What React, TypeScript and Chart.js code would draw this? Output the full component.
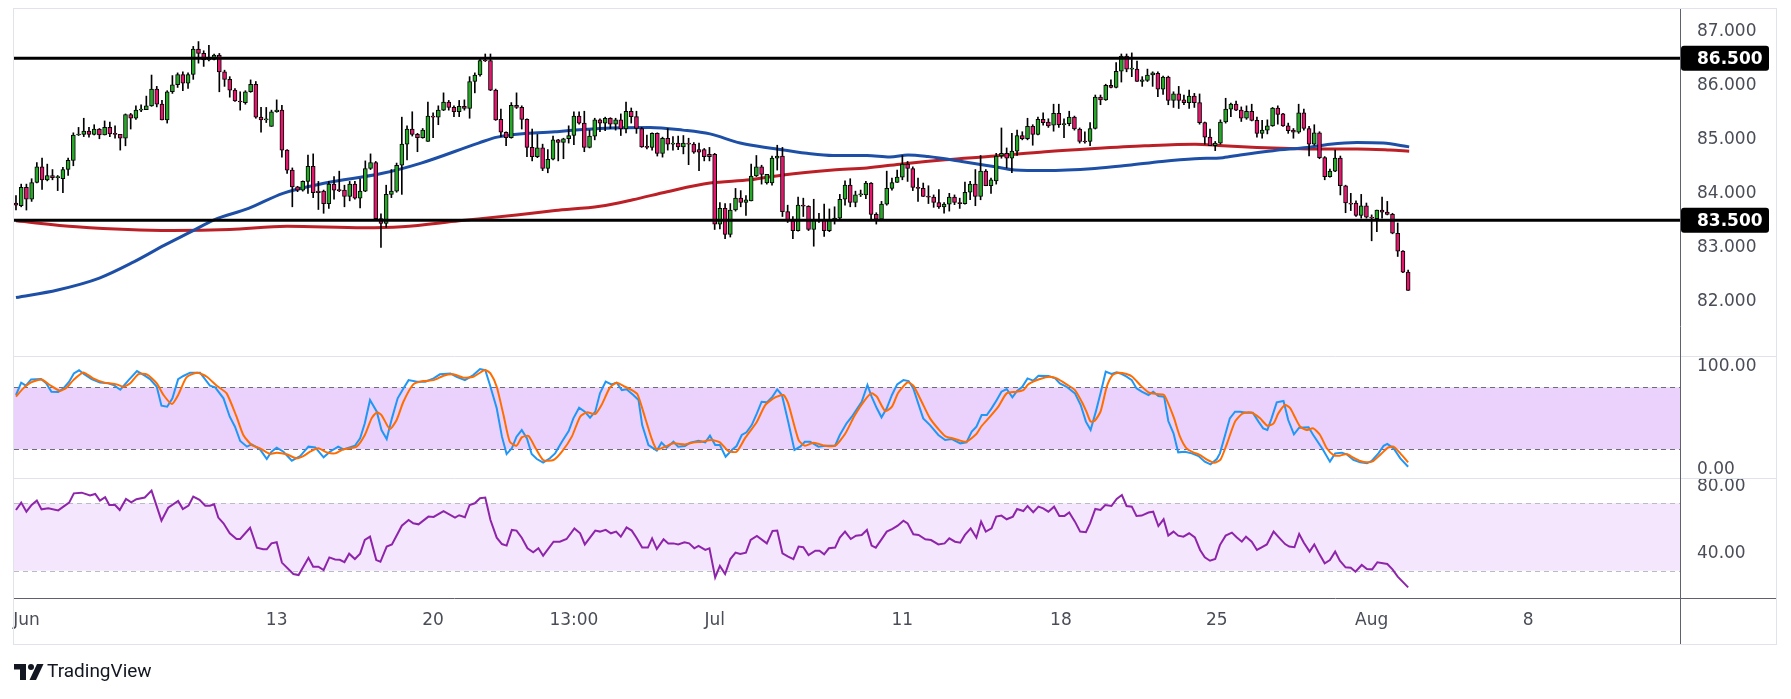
import { useEffect, useRef } from 'react';
import { Chart, registerables } from 'chart.js';

Chart.register(...registerables);

// ---------------- DATA ----------------
const opens = [
  83.82, 83.77, 84.11, 83.89, 84.20, 84.49, 84.25, 84.33, 84.29, 84.27,
  84.44, 84.61, 85.08, 85.09, 85.15, 85.09, 85.19, 85.08, 85.22, 85.10,
  85.09, 85.02, 85.46, 85.39, 85.54, 85.55, 85.62, 85.93, 85.65, 85.36,
  85.88, 86.01, 86.20, 86.04, 86.20, 86.67, 86.59, 86.47, 86.48, 86.56,
  86.25, 86.11, 85.91, 85.71, 85.68, 85.88, 86.02, 85.41, 85.36, 85.24,
  85.51, 85.54, 84.80, 84.43, 84.12, 84.06, 84.22,
  84.50, 84.04, 84.04, 83.81, 84.17, 84.06, 84.06, 83.94, 84.17, 83.91, 84.04, 84.46, 84.57,
  83.53, 83.44, 83.98, 84.04, 84.52, 84.91, 85.19, 85.09, 85.03, 84.96,
  85.43, 85.41, 85.54, 85.69, 85.59, 85.51, 85.61, 85.57, 86.07, 86.19,
  86.46, 86.46, 85.91, 85.37, 85.13, 85.03, 85.63, 85.59, 85.37, 84.85,
  84.68, 84.84, 84.46, 84.63, 84.99, 84.94, 85.01, 85.07, 85.43, 85.30,
  84.85, 85.06, 85.36, 85.30, 85.39, 85.28, 85.36, 85.19, 85.52, 85.42,
  85.20, 84.86, 84.85, 85.11, 84.74, 85.02, 84.91, 84.93, 84.86, 84.93,
  84.91, 84.81, 84.81, 84.72, 84.72, 83.43, 83.72, 83.24, 83.69, 83.91,
  83.83, 83.86, 84.32, 84.49, 84.19, 84.19, 84.65, 84.69, 83.66, 83.49,
  83.31, 83.78, 83.76, 83.33, 83.50, 83.50, 83.31, 83.50, 83.54, 83.89,
  84.15, 83.83, 83.97, 83.97, 84.19, 83.61, 83.52, 83.80, 84.09, 84.20,
  84.30, 84.54, 84.46, 84.11, 84.09, 83.95, 83.93, 83.83, 83.75, 83.80,
  83.93, 83.83, 83.81, 84.02, 84.17, 83.94, 84.41, 84.14, 84.23, 84.69,
  84.74, 84.65, 84.78, 85.07, 85.01, 85.24, 85.09, 85.37, 85.32, 85.26,
  85.48, 85.27, 85.29, 85.41, 85.19, 84.96, 84.96, 85.20, 85.78, 85.73,
  86.00, 85.96, 86.26, 86.54, 86.30, 86.30, 86.07, 86.09, 86.19, 86.22,
  85.93, 86.15, 85.72, 85.84, 85.73, 85.68,
  85.80, 85.68, 85.31, 85.04,
  84.88, 84.93, 85.32, 85.56, 85.65, 85.54, 85.39, 85.52, 85.35, 85.11,
  85.17, 85.25, 85.58, 85.47, 85.25, 85.17, 85.13, 85.49, 85.20, 84.91,
  85.12, 84.66, 84.31, 84.41, 84.65, 84.14, 83.82, 83.82, 83.59, 83.77,
  83.56, 83.53, 83.69, 83.65, 83.61, 83.26, 82.93, 82.54,
];

const highs = [
  83.96, 84.17, 84.17, 84.27, 84.57, 84.65, 84.54, 84.44, 84.33, 84.48,
  84.65, 85.12, 85.22, 85.39, 85.22, 85.27, 85.20, 85.34, 85.32, 85.25,
  85.09, 85.47, 85.48, 85.62, 85.64, 85.80, 86.19, 85.98, 85.72, 85.90,
  86.18, 86.23, 86.25, 86.23, 86.72, 86.81, 86.64, 86.74, 86.58, 86.59,
  86.28, 86.16, 85.94, 85.88, 85.90, 86.10, 86.07, 85.59, 85.59, 85.54,
  85.73, 85.63, 84.81, 84.47, 84.13, 84.23, 84.71,
  84.73, 84.22, 84.06, 84.22, 84.31, 84.41, 84.15, 84.22, 84.22, 84.27, 84.60, 84.73, 84.59,
  83.62, 84.15, 84.44, 84.56, 85.41, 85.25, 85.51, 85.11, 85.20, 85.69,
  85.49, 85.62, 85.86, 85.72, 85.62, 85.72, 85.73, 86.16, 86.23, 86.48,
  86.58, 86.58, 85.93, 85.56, 85.14, 85.68, 85.86, 85.62, 85.38, 85.19,
  85.09, 84.91, 84.81, 85.06, 85.00, 85.02, 85.25, 85.51, 85.51, 85.52,
  85.17, 85.39, 85.38, 85.41, 85.40, 85.39, 85.47, 85.69, 85.58, 85.52,
  85.22, 85.08, 85.12, 85.12, 85.04, 85.20, 85.05, 85.06, 85.07, 85.02,
  84.94, 84.93, 84.83, 84.85, 84.74, 83.83, 83.81, 83.81, 84.09, 84.05,
  83.96, 84.54, 84.70, 84.52, 84.35, 84.69, 84.89, 84.85, 83.78, 83.57,
  83.93, 83.91, 83.77, 83.89, 83.63, 83.80, 83.71, 83.75, 83.98, 84.23,
  84.27, 84.04, 84.06, 84.22, 84.20, 83.64, 83.85, 84.41, 84.28, 84.43,
  84.70, 84.59, 84.49, 84.28, 84.19, 84.14, 83.97, 84.07, 83.83, 84.00,
  83.97, 83.91, 84.21, 84.22, 84.44, 84.70, 84.44, 84.28, 84.74, 85.21,
  84.84, 85.11, 85.17, 85.14, 85.39, 85.27, 85.41, 85.49, 85.38, 85.65,
  85.65, 85.38, 85.52, 85.43, 85.21, 85.14, 85.31, 85.82, 85.82, 86.02,
  86.10, 86.42, 86.58, 86.58, 86.60, 86.45, 86.16, 86.30, 86.25, 86.25,
  86.17, 86.17, 85.88, 85.98, 85.82, 85.91,
  85.85, 85.84, 85.32, 85.19,
  84.96, 85.36, 85.76, 85.67, 85.71, 85.60, 85.62, 85.65, 85.41, 85.35,
  85.36, 85.59, 85.62, 85.48, 85.30, 85.20, 85.65, 85.56, 85.24, 85.27,
  85.14, 84.68, 84.45, 84.80, 84.69, 84.15, 84.00, 83.86, 83.98, 83.82,
  83.60, 83.69, 83.93, 83.85, 83.63, 83.45, 82.94, 82.58,
];

const lows = [
  83.69, 83.75, 83.69, 83.85, 84.19, 84.07, 84.23, 84.25, 84.05, 84.01,
  84.33, 84.51, 85.07, 85.05, 85.04, 85.08, 85.01, 85.08, 85.05, 85.02,
  84.80, 84.88, 85.19, 85.37, 85.51, 85.55, 85.61, 85.60, 85.36, 85.30,
  85.85, 85.96, 85.90, 85.94, 86.11, 86.41, 86.35, 86.45, 86.47, 85.88,
  85.98, 85.78, 85.70, 85.54, 85.65, 85.87, 85.39, 85.13, 85.31, 85.24,
  85.50, 84.67, 84.37, 83.75, 84.03, 84.04, 84.00,
  83.92, 83.70, 83.63, 83.72, 83.89, 84.03, 83.75, 83.86, 83.89, 83.73, 84.03, 84.44, 83.52,
  83.00, 83.37, 83.92, 84.02, 83.98, 84.62, 85.06, 84.77, 85.02, 84.96,
  85.03, 85.27, 85.53, 85.54, 85.42, 85.42, 85.54, 85.39, 85.86, 86.17,
  86.44, 85.90, 85.35, 85.05, 84.88, 85.02, 85.57, 85.19, 84.68, 84.60,
  84.66, 84.42, 84.38, 84.62, 84.60, 84.64, 84.93, 84.90, 85.28, 84.77,
  84.84, 84.99, 85.14, 85.16, 85.20, 85.17, 85.07, 85.12, 85.30, 85.11,
  84.85, 84.82, 84.80, 84.69, 84.67, 84.80, 84.80, 84.81, 84.73, 84.53,
  84.74, 84.42, 84.60, 84.60, 83.33, 83.34, 83.16, 83.19, 83.67, 83.75,
  83.59, 83.86, 84.31, 84.17, 84.17, 84.15, 84.43, 83.57, 83.46, 83.16,
  83.30, 83.57, 83.31, 83.02, 83.46, 83.20, 83.29, 83.43, 83.52, 83.78,
  83.75, 83.75, 83.94, 83.90, 83.51, 83.43, 83.51, 83.78, 84.06, 84.20,
  84.25, 84.22, 84.05, 83.85, 83.94, 83.81, 83.74, 83.72, 83.63, 83.67,
  83.79, 83.72, 83.80, 83.88, 83.77, 83.88, 84.14, 84.00, 84.17, 84.65,
  84.47, 84.38, 84.70, 84.99, 84.99, 84.89, 85.08, 85.26, 85.22, 85.15,
  85.22, 85.03, 85.25, 85.17, 84.93, 84.93, 84.88, 85.19, 85.64, 85.72,
  85.95, 85.95, 86.06, 86.25, 86.16, 86.07, 85.98, 86.07, 85.98, 85.79,
  85.83, 85.64, 85.59, 85.57, 85.64, 85.57,
  85.59, 85.28, 84.91, 84.88,
  84.79, 84.91, 85.30, 85.42, 85.53, 85.33, 85.37, 85.34, 85.04, 85.02,
  85.10, 85.24, 85.28, 85.24, 85.11, 85.02, 85.11, 85.17, 84.69, 84.89,
  84.64, 84.25, 84.30, 84.40, 83.97, 83.64, 83.68, 83.57, 83.54, 83.54,
  83.12, 83.29, 83.54, 83.60, 83.25, 82.83, 82.53, 82.20,
];

const closes = [
  83.78, 84.11, 83.89, 84.20, 84.49, 84.25, 84.33, 84.29, 84.30, 84.44,
  84.61, 85.08, 85.09, 85.15, 85.09, 85.19, 85.08, 85.22, 85.10, 85.09,
  85.02, 85.46, 85.39, 85.54, 85.55, 85.62, 85.93, 85.65, 85.36, 85.88,
  86.01, 86.20, 86.04, 86.20, 86.67, 86.59, 86.47, 86.48, 86.56, 86.25,
  86.11, 85.91, 85.71, 85.69, 85.88, 86.02, 85.41, 85.36, 85.37, 85.51,
  85.54, 84.80, 84.43, 84.12, 84.06, 84.22, 84.50,
  84.01, 84.01, 83.81, 84.17, 84.06, 84.05, 83.94, 84.17, 83.91, 84.04, 84.46, 84.57, 83.53,
  83.44, 83.98, 84.04, 84.52, 84.91, 85.19, 85.09, 85.03, 85.17, 85.43,
  85.41, 85.54, 85.69, 85.59, 85.51, 85.61, 85.57, 86.07, 86.19, 86.46,
  86.45, 85.91, 85.36, 85.13, 85.03, 85.63, 85.59, 85.37, 84.85, 84.68,
  84.84, 84.46, 84.63, 84.99, 84.94, 85.01, 85.07, 85.43, 85.30, 84.85,
  85.06, 85.36, 85.30, 85.39, 85.28, 85.36, 85.19, 85.52, 85.42, 85.20,
  84.86, 84.85, 85.11, 84.74, 85.02, 84.91, 84.93, 84.86, 84.93, 84.91,
  84.76, 84.76, 84.68, 84.68, 83.43, 83.72, 83.24, 83.69, 83.91, 83.83,
  83.88, 84.32, 84.49, 84.35, 84.35, 84.65, 84.69, 83.66, 83.49, 83.31,
  83.78, 83.76, 83.33, 83.50, 83.49, 83.31, 83.50, 83.54, 83.89, 84.15,
  83.83, 83.97, 83.99, 84.19, 83.61, 83.52, 83.80, 84.09, 84.20, 84.30,
  84.54, 84.46, 84.11, 84.09, 83.94, 83.93, 83.83, 83.75, 83.80, 83.93,
  83.83, 83.81, 84.02, 84.17, 83.94, 84.41, 84.14, 84.25, 84.69, 84.74,
  84.65, 84.78, 85.07, 85.01, 85.24, 85.09, 85.37, 85.31, 85.25, 85.48,
  85.27, 85.29, 85.41, 85.19, 84.96, 84.95, 85.20, 85.78, 85.73, 86.00,
  85.96, 86.26, 86.54, 86.30, 86.30, 86.07, 86.10, 86.19, 86.23, 85.93,
  86.15, 85.72, 85.84, 85.72, 85.68, 85.80,
  85.68, 85.31, 85.04, 84.88,
  84.93, 85.32, 85.56, 85.65, 85.54, 85.39, 85.52, 85.35, 85.11, 85.17,
  85.25, 85.58, 85.46, 85.25, 85.16, 85.13, 85.49, 85.20, 84.91, 85.12,
  84.66, 84.31, 84.41, 84.65, 84.14, 83.82, 83.80, 83.59, 83.77, 83.56,
  83.54, 83.69, 83.65, 83.61, 83.26, 82.93, 82.54, 82.20,
];

// moving averages: [bar index, value]
const blueMA = [
  [0, 82.07], [8, 82.21], [16, 82.43], [22.6, 82.73], [28.5, 83.04], [33.6, 83.29], [38, 83.51],
  [44.6, 83.72], [51.2, 84.0], [59.3, 84.19], [70.3, 84.37], [77.7, 84.56], [88.7, 84.93],
  [92.3, 85.04], [103.4, 85.14], [112, 85.2], [121.6, 85.22], [127.9, 85.17], [133.1, 85.1],
  [138.9, 84.93], [145.2, 84.83], [151.7, 84.74], [156.7, 84.7], [163.2, 84.7], [167.6, 84.67],
  [171.1, 84.71], [174.9, 84.68], [181.4, 84.59], [187.8, 84.49], [191.6, 84.43], [197.4, 84.42],
  [206.9, 84.46], [213.3, 84.52], [219.8, 84.59], [226.1, 84.64], [231.5, 84.66], [234.8, 84.71],
  [241.1, 84.79], [247.6, 84.85], [252, 84.91], [257.2, 84.94], [262.2, 84.93], [267.2, 84.86],
];

const redMA = [
  [0, 83.49], [11.6, 83.38], [29.9, 83.31], [41, 83.33], [52, 83.39], [66.7, 83.36], [74, 83.38],
  [85, 83.49], [96, 83.6], [103.4, 83.68], [112, 83.76], [118.3, 83.88], [124.9, 84.03],
  [133.1, 84.19], [140.8, 84.25], [147.1, 84.34], [156.7, 84.43], [163.2, 84.47], [169.5, 84.54],
  [178.2, 84.62], [187.8, 84.69], [197.4, 84.77], [206.9, 84.83], [216.5, 84.88], [226.1, 84.91],
  [231.5, 84.88], [238, 84.85], [244.3, 84.83], [250.7, 84.82], [257.2, 84.82], [263.5, 84.8],
  [267.2, 84.78],
];

// stochastic %K / %D: [bar index, value]
const stochK = [
  [0, 72.6], [1, 84.5], [1.9, 81.6], [2.9, 87.7], [4.8, 88.1], [5.8, 83.9], [6.8, 75.8], [8.1, 75.5],
  [9.1, 79], [10.2, 85.5], [11.1, 93.5], [12.1, 96.5], [13, 93], [14.5, 88], [16.1, 84.8], [17.7, 83.9],
  [18.7, 82.3], [20, 77.7], [21.6, 87], [23.2, 95.8], [24.7, 91.3], [25.7, 88], [27, 80.6], [27.9, 62.3],
  [29, 61.3], [30, 69.4], [31.1, 88], [32.1, 91], [33.4, 94.2], [35.3, 94.2], [37.2, 81.6], [38.2, 80],
  [39.8, 69.4], [41, 51.6], [42, 41.9], [43, 28.1], [44.3, 22.6], [45.2, 24.8], [46.8, 20], [48.1, 10.6],
  [49, 17.7], [50, 21.6], [51.3, 17.7], [52.9, 9], [54.5, 13.5], [56.1, 22.6], [57.4, 21.9], [59, 12.3],
  [60.2, 17.7], [61.8, 22.6], [62.8, 20], [65, 23.5], [66, 30.6], [66.9, 45.2], [67.9, 67.7], [69.2, 56.5],
  [70.1, 38.7], [71.1, 30], [72.1, 50], [73.2, 69.4], [74.3, 79], [75.3, 87], [76.9, 85.5], [78.5, 85.5],
  [80.1, 88.7], [81.3, 92.6], [83.3, 93.5], [84.5, 90.3], [86.1, 87], [87.7, 91.9], [89, 97.7],
  [90, 96.8], [90.9, 82.3], [92.2, 59.7], [93.2, 32.3], [94.1, 15.5], [95.1, 21], [96, 32.3], [97, 38.7],
  [98, 30.6], [98.9, 15.5], [99.9, 10.6], [101.1, 7.1], [102.4, 11.3], [103.4, 16.1], [104.7, 27.4],
  [106, 37.7], [106.9, 50], [108, 60.3], [109.1, 56.5], [110.1, 50.6], [111.1, 56.5], [112, 74.2],
  [113.1, 85.5], [114.2, 82.9], [115.2, 84.5], [116.2, 77.4], [117.1, 78.1], [118.4, 72.6], [119.4, 67.7],
  [120.1, 43.5], [121.3, 24.2], [122.9, 18.7], [123.8, 26.5], [124.8, 21.6], [126.1, 27.4], [127, 22.6],
  [128.3, 23.2], [129.3, 26.5], [130.9, 28.4], [132.2, 26.8], [133.1, 33.2], [134.1, 24.2], [135, 24.2],
  [136.1, 12.9], [137.3, 19.4], [138.2, 23.2], [139.2, 33.9], [140.1, 36.5], [141.1, 43.5], [142.1, 54.8],
  [143, 66.1], [144, 65.5], [145.1, 71], [146, 78.1], [146.9, 72.6], [148.1, 46.8], [149.3, 19.4],
  [150.4, 22.6], [151.3, 27.4], [152.3, 27.4], [153.9, 22.6], [155.2, 23.5], [157.1, 23.5], [158, 33.9],
  [159.3, 45.2], [160.3, 51.6], [162.2, 66.1], [163.3, 82.3], [164.1, 71], [165.1, 59.7], [166, 51],
  [167, 59.7], [168, 72.6], [169, 82.9], [170.2, 87], [171.2, 86.1], [172.1, 79], [173.1, 63.5], [174, 50],
  [175.3, 43.5], [176.9, 33.9], [178.2, 29], [179.5, 30], [181.1, 25.8],
  [182.3, 26.8], [183.3, 37.1], [184.2, 41.9], [185.2, 53.2], [186.2, 53.2], [187.1, 59.7], [188.1, 67.7],
  [189, 75.8], [190, 78.4], [191.1, 70.3], [192, 76.5], [193, 80.6], [194, 88.7], [195.1, 86.5],
  [196.1, 91.3], [198, 91], [199.3, 88.7], [200.2, 83.9], [201.5, 80.6], [203.1, 74.2], [204.2, 62.9],
  [205.2, 46.8], [206.1, 38.7], [207.1, 56.5], [208, 74.2], [209, 95.2], [210.1, 92.9], [211.1, 94.5],
  [212.1, 92.9], [213, 90.3], [214, 87], [214.9, 79], [215.9, 75.8], [217.2, 72.6], [218.1, 75.8],
  [219.1, 71.6], [220.2, 71], [221, 47.4], [222, 35.5], [222.9, 17.1], [224.2, 17.7], [225.5, 16.1],
  [226.8, 13.5], [228, 8.1], [229.1, 5.5], [230.3, 10.6], [230.9, 16.1], [231.9, 33.9], [232.8, 50],
  [233.8, 56.5], [234.8, 56.5], [236, 55.5], [237.2, 55.5], [238.3, 46.8], [239.2, 40.3], [240, 38.7],
  [240.8, 50], [241.8, 65.5], [243.1, 66.8], [244, 48.4], [245.1, 34.5], [246.1, 41], [247.9, 41.3],
  [248.8, 33.9], [250.7, 19.4], [252, 8.1], [253, 16.1], [254.3, 16.8], [255.2, 15.2], [256.5, 9.7],
  [257.8, 7.4], [259.1, 6.5], [260, 8.7], [261.3, 16.1], [262.3, 23.5], [263, 25.2], [264.2, 21],
  [265.5, 11.3], [267, 3.2],
];

const stochD = [
  [0, 71], [1.4, 79], [2.9, 84.8], [4.9, 87.7], [6.5, 82.3], [8.4, 76.8], [9.7, 79.7], [11, 87],
  [12.9, 94.5], [14.8, 88.7], [16.8, 84.8], [19.3, 82.9], [20.6, 80.6], [21.9, 83.9], [23.5, 92.9],
  [25.1, 92.6], [27, 83.9], [28.3, 72.6], [29.9, 63.9], [31.1, 72.6], [32.7, 89.7], [34.7, 94.2],
  [36.6, 90.3], [38.5, 81.6], [40.4, 74.2], [42.3, 51.6], [43.6, 33.9], [45.2, 24.2], [46.8, 21],
  [48.7, 15.5], [50, 16.8], [51.9, 15.2], [53.8, 11.3], [55.1, 13.5], [56.4, 17.7], [58, 21],
  [59.6, 17.1], [61.2, 16.1], [62.8, 20], [65.3, 22.6], [66.9, 33.9], [68.2, 50], [69.2, 55.8],
  [70.1, 53.2], [71.7, 39.7], [73, 48.4], [74.3, 66.1], [76.2, 82.9], [78.1, 86.1], [80.1, 87],
  [82, 91.3], [83.9, 92.6], [85.8, 89.4], [87.7, 90.3], [89.6, 96.1],
  [90, 96.8], [91, 93.5], [92.2, 80.6], [93.5, 53.2], [94.7, 27.4], [96, 23.5], [97, 31.6], [98.3, 32.9],
  [99.5, 22.6], [101.1, 9.7], [103.1, 9.7], [104.7, 17.7], [106.6, 32.3], [108.2, 51.6], [109.5, 55.8],
  [111.1, 54.2], [112.3, 62.9], [113.9, 79.7], [115.2, 84.5], [116.8, 80.6], [118.1, 77.4], [119.2, 73.2],
  [120.6, 51.6], [121.9, 30.6], [122.9, 20], [124.5, 22.6], [126.1, 25.8], [128.3, 24.8], [129.9, 26.5],
  [131.5, 27.4], [133.4, 29], [135, 26.8], [136.6, 18.4], [138.2, 17.7], [139.8, 30.6], [142.1, 46.8],
  [143.7, 62.9], [145.6, 70.3], [147.2, 72.6], [148.1, 64.5], [150.1, 29], [151.3, 23.5], [153, 26.5],
  [155.2, 23.5], [157.1, 23.5], [159, 34.8], [160.9, 53.2], [162.8, 67.7], [164.1, 74.2], [165.1, 71],
  [166.7, 57.1], [168, 61.3], [169.2, 74.8], [171, 84.8], [172.1, 81.6], [173.7, 66.1], [175.3, 50],
  [176.9, 39.7], [178.2, 32.9], [180.1, 30],
  [181.1, 28.4], [182.3, 27.4], [184.2, 34.8], [185.2, 42.6], [186.8, 51.6], [188.4, 61.3], [190, 74.2],
  [191.9, 75.8], [193.2, 77.4], [194.2, 83.2], [196.4, 88.1], [198.3, 90.3], [199.6, 88.7], [201.5, 82.9],
  [203.1, 77.4], [204.4, 66.1], [205.3, 56.5], [206.1, 46.8], [206.9, 47.7], [208, 56.5], [209.2, 80.6],
  [210.3, 91.9], [211.4, 94.2], [213, 92.9], [214.1, 90.3], [215.6, 82.3], [217.2, 75.2], [218.8, 73.5],
  [220.2, 72.6], [222, 51.6], [223.2, 32.9], [224.5, 21], [225.8, 17.1], [227.1, 14.5], [228.5, 9.7],
  [229.8, 7.1], [231, 10], [232.2, 24.8], [233.8, 46.8], [235.1, 54.2], [236.4, 55.8], [237.3, 54.8],
  [238.6, 50], [240, 42.9], [241.2, 45.2], [242.1, 54.8], [243.4, 62.9], [244.4, 59.7], [245.3, 51],
  [246.3, 41.9], [247.5, 38.7], [248.8, 40.3], [250.1, 33.9], [251.4, 21], [252.7, 14.5], [253.9, 13.9],
  [255.2, 15.5], [256.5, 11.9], [257.8, 8.7], [259.1, 7.4], [260.3, 8.7], [261.6, 14.5], [263.2, 21.9],
  [264.2, 22.6], [265.5, 16.1], [267, 7.4],
];

// RSI: [bar index, value]
const rsi = [
  [0, 66], [1, 70.4], [2, 65], [3, 69], [4, 71.6], [4.9, 66.4], [6.2, 67], [8.1, 65.8], [9.1, 68],
  [10.2, 70.4], [11.1, 75.9], [12.6, 76.3], [14.2, 74.6], [15.2, 75.5], [16.1, 71.6], [17.1, 73.6],
  [17.9, 69], [19, 69], [19.9, 66], [21.1, 72.6], [22.1, 70.6], [23.1, 72.4], [24.7, 73.4], [26, 77.5],
  [27.9, 59.7], [29.2, 67.4], [31.1, 71.4], [32, 66.6], [33.1, 68.6], [34, 74], [35.2, 72], [36.3, 68.6],
  [37.2, 68.6], [38, 69.4], [38.8, 61.5], [39.8, 58.1], [41, 52.2], [42.3, 48.8], [43, 48.8], [44.9, 55.5],
  [46.2, 43.7], [47.4, 42.7], [48.1, 42.7], [49, 46.2], [50, 46.9], [51, 34.8], [53.2, 28], [54.2, 27.4],
  [56.1, 37.7], [57, 32.4], [58, 32.4], [59, 30.4], [60.1, 37.9], [61.2, 36.7], [62.1, 36.5], [63, 35.1],
  [63.9, 40.1], [65, 36.9], [66, 40.1], [66.9, 48.2], [67.9, 50.2], [69.1, 36.3], [69.9, 35.3],
  [71.1, 44.3], [72.1, 45.6], [74, 56.7], [75.3, 60.1], [76.2, 58.1], [77.2, 57.5], [79.1, 62.1],
  [80.1, 61.9], [82, 65.4], [84.2, 61.5], [85, 62.9], [86.1, 61.7], [87, 69], [88, 70], [89, 73],
  [90, 73.4], [91, 60.1], [92.2, 49.6], [93.2, 45.8], [94.1, 44.9], [95.1, 54.2], [96, 53.8], [97, 49.6],
  [98.1, 43.3], [99.2, 40.9], [100.2, 43.3], [101.1, 38.9], [103.1, 47.2], [104.3, 47.2], [105.6, 48.8],
  [107.1, 55.1], [108.2, 52.2], [109.1, 45.6], [111.1, 53.8], [112, 53.2], [113.1, 54.2], [114.1, 52.2],
  [115.1, 53.2], [116, 50.2], [117.1, 55.7], [118.1, 53.8], [119, 49.6], [120.1, 43.7], [121.2, 43.7],
  [122, 49.2], [122.9, 42.9], [124.2, 48.6], [125.1, 46.2], [126.1, 46.2], [127, 45.6], [128.2, 46.8],
  [129.1, 46.2], [130.1, 43.3], [130.9, 44.7], [132.2, 42.3], [133, 43.3], [134.1, 26], [135, 32.8],
  [136, 28], [137, 36.9], [138, 40.7], [138.9, 39.9], [140, 40.7], [140.9, 48.2], [142.1, 50.6],
  [144, 46.2], [145.1, 53.6], [146, 53.8], [147, 40.3], [148.1, 38.3], [149.1, 36.9], [150.1, 44.3],
  [151, 43.9], [152, 39.3], [153.3, 41.9], [154.1, 41.9], [155, 39.7], [155.9, 43.3], [157.1, 43.7],
  [158, 49.6], [159, 53.2], [160.1, 48.8], [161.1, 50.8], [162.2, 51.2], [163.2, 54.2], [164.1, 44.9],
  [164.9, 43.7], [166, 48.6], [167, 53.2], [168.1, 54.8], [169.1, 56.7], [170.2, 59.7], [171, 58.1],
  [172.1, 51.6], [173.1, 51.2], [174.4, 48.6], [175.5, 48.2], [176.9, 45.6], [178.1, 46.2], [179, 49.2],
  [180.1, 47.2], [181.1, 46.6],
  [182, 51.2], [183.1, 55.1], [184.2, 49.6], [185.1, 59.1], [186, 53.2], [187.1, 55.1], [188, 62.1],
  [189, 62.7], [190, 60.5], [191.2, 62.1], [192, 66.6], [193.2, 65.4], [194, 68.4], [195.1, 64.7],
  [196.1, 68], [197, 67], [198, 65], [199.1, 68], [200.1, 62.5], [201.1, 62.5], [202, 64.5], [203.1, 59.1],
  [204.1, 53.2], [205.2, 52.8], [206, 58.1], [207, 66.6], [208, 66], [208.9, 69], [210.1, 68.4],
  [211.1, 72.6], [212.1, 74.9], [213, 68.4], [214, 68], [214.9, 62.5], [215.9, 62.7], [217.2, 64.5],
  [218.1, 65], [219.1, 56.5], [220.1, 60.5], [221, 50.8], [222, 53.2], [222.9, 50.8], [223.9, 50.2],
  [225, 52.2], [226.1, 49.8], [227.1, 42.3], [228, 37.9], [229, 35.9], [230, 36.9], [230.9, 45.2],
  [232, 50.8], [233.2, 52.6], [234.1, 49.8], [235.1, 47.2], [235.9, 50.2], [237, 47.2], [238, 42.3],
  [238.9, 43.9], [239.9, 45.6], [241.2, 53.2], [242.2, 49.8], [243.4, 45.8], [244.2, 44.3], [245.2, 43.9],
  [246.1, 51.8], [247, 46.6], [248.1, 41.3], [249, 45.6], [250, 39.7], [251, 34.4], [252, 36.3],
  [253, 41.3], [253.9, 35.9], [255, 32], [256, 31.8], [256.9, 29.4], [258.1, 33.4], [259.1, 31],
  [260.1, 30.8], [261.1, 35], [263, 34], [264, 30.8], [265, 26.5], [267, 20.1],
];

const levels = [86.5, 83.5];
const priceTicks = [82, 83, 84, 85, 86, 87];
const stochTicks = [0, 100];
const rsiTicks = [40, 80];
const stochBand = [20, 80];
const rsiBand = [30, 70];
const xTickPos = [2, 50, 80, 107, 134, 170, 200.4, 230.3, 260, 290];
const xTickLabels = ['Jun', '13', '20', '13:00', 'Jul', '11', '18', '25', 'Aug', '8'];

// ---------------- LAYOUT / STYLE ----------------
const W = 1791;
const H = 699;
const X_MIN = -0.38;
const X_MAX = 319.14;
const AXIS_W = 96;
const FONT = 'DejaVu Sans';
const TEXT = '#4a4d57';
const UP = '#28a828';
const DOWN = '#e3176c';

const pts = (arr: number[][]) => arr.map(([x, y]) => ({ x, y }));

const panesPlugin = {
  id: 'panes',
  beforeDatasetsDraw(chart: any) {
    const { ctx, chartArea: ca, scales } = chart;
    const hline = (y: number) => {
      const yy = Math.round(y) + 0.5;
      ctx.beginPath();
      ctx.moveTo(ca.left, yy);
      ctx.lineTo(ca.right, yy);
      ctx.stroke();
    };
    ctx.save();
    const yS = scales.yS;
    const sTop = yS.getPixelForValue(stochBand[1]);
    const sBot = yS.getPixelForValue(stochBand[0]);
    ctx.fillStyle = '#ead2fc';
    ctx.fillRect(ca.left, sTop, ca.right - ca.left, sBot - sTop);
    const yR = scales.yR;
    const rTop = yR.getPixelForValue(rsiBand[1]);
    const rBot = yR.getPixelForValue(rsiBand[0]);
    ctx.fillStyle = '#f4e7fd';
    ctx.fillRect(ca.left, rTop, ca.right - ca.left, rBot - rTop);
    ctx.lineWidth = 1;
    ctx.setLineDash([5, 4]);
    ctx.strokeStyle = '#6c6f79';
    hline(sTop);
    hline(sBot);
    ctx.strokeStyle = '#b9bcc5';
    hline(rTop);
    hline(rBot);
    ctx.restore();
  },
  afterDraw(chart: any) {
    const { ctx, chartArea: ca, scales } = chart;
    ctx.save();
    const right = ca.right + AXIS_W;
    const bottom = scales.x.bottom;
    // outer frame
    ctx.strokeStyle = '#e0e3eb';
    ctx.lineWidth = 1;
    ctx.strokeRect(ca.left - 0.5, ca.top - 0.5, right - ca.left + 1, bottom - ca.top + 1);
    // pane separators
    const sepY = [scales.yS.top, scales.yR.top];
    sepY.forEach((y: number) => {
      const yy = Math.round(y) + 0.5;
      ctx.beginPath();
      ctx.moveTo(ca.left, yy);
      ctx.lineTo(right, yy);
      ctx.stroke();
    });
    // axis lines
    ctx.strokeStyle = '#5f626c';
    ctx.beginPath();
    ctx.moveTo(Math.round(ca.right) + 0.5, ca.top);
    ctx.lineTo(Math.round(ca.right) + 0.5, bottom);
    ctx.moveTo(ca.left, Math.round(ca.bottom) + 0.5);
    ctx.lineTo(right, Math.round(ca.bottom) + 0.5);
    ctx.stroke();
    // price labels of the horizontal levels
    levels.forEach((lv) => {
      const y = scales.y.getPixelForValue(lv);
      ctx.fillStyle = '#000';
      ctx.beginPath();
      (ctx as any).roundRect(ca.right + 1, y - 12.5, 88, 25, 3);
      ctx.fill();
      ctx.fillStyle = '#fff';
      ctx.font = `bold 17px "${FONT}"`;
      ctx.textAlign = 'left';
      ctx.textBaseline = 'middle';
      ctx.fillText(lv.toFixed(3), ca.right + 17, y + 1);
    });
    // TradingView logo
    ctx.fillStyle = '#131722';
    const lx = 14;
    const ly = 664;
    ctx.fillRect(lx, ly, 12, 5.5);
    ctx.fillRect(lx + 6, ly, 6, 16);
    ctx.beginPath();
    ctx.arc(lx + 17, ly + 3, 3, 0, Math.PI * 2);
    ctx.fill();
    ctx.beginPath();
    ctx.moveTo(lx + 23, ly);
    ctx.lineTo(lx + 29.5, ly);
    ctx.lineTo(lx + 22, ly + 16);
    ctx.lineTo(lx + 15.5, ly + 16);
    ctx.closePath();
    ctx.fill();
    ctx.font = '19px Roboto';
    ctx.textAlign = 'left';
    ctx.textBaseline = 'middle';
    ctx.fillText('TradingView', lx + 33, ly + 8.5);
    ctx.restore();
  },
};

const yAxisFit = (s: any) => {
  s.width = AXIS_W;
  s.paddingTop = 0;
  s.paddingBottom = 0;
};

export default function App() {
  const ref = useRef<HTMLCanvasElement>(null);

  useEffect(() => {
    if (!ref.current) return;
    Chart.defaults.font.family = FONT;

    const wickData = opens.map((_, i) => ({ x: i, y: [lows[i], highs[i]] }));
    const bodyData = opens.map((o, i) => ({
      x: i,
      y: [Math.min(o, closes[i]), Math.max(o, closes[i])],
    }));
    const bodyColors = opens.map((o, i) => (closes[i] >= o ? UP : DOWN));

    const levelSets = levels.map((lv) => ({
      type: 'line' as const,
      data: [
        { x: X_MIN, y: lv },
        { x: X_MAX, y: lv },
      ],
      borderColor: '#000',
      borderWidth: 3,
      pointRadius: 0,
      yAxisID: 'y',
      order: 0,
    }));

    const chart = new Chart(ref.current, {
      type: 'bar',
      data: {
        datasets: [
          ...levelSets,
          {
            type: 'bar',
            data: bodyData as any,
            backgroundColor: bodyColors,
            borderColor: '#000',
            borderWidth: 1,
            borderSkipped: false,
            barThickness: 4,
            minBarLength: 1,
            grouped: false,
            yAxisID: 'y',
            order: 1,
          } as any,
          {
            type: 'bar',
            data: wickData as any,
            backgroundColor: '#000',
            borderWidth: 0,
            barThickness: 1,
            grouped: false,
            yAxisID: 'y',
            order: 2,
          } as any,
          {
            type: 'line',
            data: pts(blueMA),
            borderColor: '#1d4fa6',
            borderWidth: 3,
            pointRadius: 0,
            cubicInterpolationMode: 'monotone',
            yAxisID: 'y',
            order: 3,
          } as any,
          {
            type: 'line',
            data: pts(redMA),
            borderColor: '#bb2027',
            borderWidth: 3,
            pointRadius: 0,
            cubicInterpolationMode: 'monotone',
            yAxisID: 'y',
            order: 4,
          } as any,
          {
            type: 'line',
            data: pts(stochD),
            borderColor: '#ff6d00',
            borderWidth: 2,
            pointRadius: 0,
            tension: 0.2,
            yAxisID: 'yS',
            order: 5,
          } as any,
          {
            type: 'line',
            data: pts(stochK),
            borderColor: '#2196f3',
            borderWidth: 2,
            pointRadius: 0,
            tension: 0,
            yAxisID: 'yS',
            order: 6,
          } as any,
          {
            type: 'line',
            data: pts(rsi),
            borderColor: '#8e24aa',
            borderWidth: 2,
            pointRadius: 0,
            tension: 0,
            yAxisID: 'yR',
            order: 7,
          } as any,
        ],
      },
      options: {
        animation: false,
        responsive: false,
        devicePixelRatio: 1,
        events: [],
        layout: { padding: { left: 14, top: 9, right: W - 1776, bottom: H - 644 } },
        plugins: {
          legend: { display: false },
          title: { display: false },
          tooltip: { enabled: false },
        },
        scales: {
          y: {
            type: 'linear',
            position: 'right',
            stack: 'panes',
            stackWeight: 347,
            min: 80.987,
            max: 87.413,
            bounds: 'data',
            grid: { display: false, drawTicks: false },
            border: { display: false },
            ticks: {
              padding: 17,
              color: TEXT,
              font: { size: 17, family: FONT },
              callback: (v: any) => Number(v).toFixed(3),
            },
            afterBuildTicks: (s: any) => {
              s.ticks = priceTicks.map((value) => ({ value }));
            },
            afterFit: yAxisFit,
          },
          yS: {
            type: 'linear',
            position: 'right',
            stack: 'panes',
            stackWeight: 122,
            min: -7.74,
            max: 110.36,
            bounds: 'data',
            grid: { display: false, drawTicks: false },
            border: { display: false },
            ticks: {
              padding: 17,
              color: TEXT,
              font: { size: 17, family: FONT },
              callback: (v: any) => Number(v).toFixed(2),
            },
            afterBuildTicks: (s: any) => {
              s.ticks = stochTicks.map((value) => ({ value }));
            },
            afterFit: yAxisFit,
          },
          yR: {
            type: 'linear',
            position: 'right',
            stack: 'panes',
            stackWeight: 120,
            min: 13.8,
            max: 85.0,
            bounds: 'data',
            grid: { display: false, drawTicks: false },
            border: { display: false },
            ticks: {
              padding: 17,
              color: TEXT,
              font: { size: 17, family: FONT },
              callback: (v: any) => Number(v).toFixed(2),
            },
            afterBuildTicks: (s: any) => {
              s.ticks = rsiTicks.map((value) => ({ value }));
            },
            afterFit: yAxisFit,
          },
          x: {
            type: 'linear',
            position: 'bottom',
            min: X_MIN,
            max: X_MAX,
            offset: false,
            bounds: 'data',
            grid: { display: false, drawTicks: false, offset: false },
            border: { display: false },
            ticks: {
              padding: 12,
              color: TEXT,
              font: { size: 17, family: FONT },
              maxRotation: 0,
              minRotation: 0,
              autoSkip: false,
              callback: (_v: any, i: number) => xTickLabels[i] ?? '',
            },
            afterBuildTicks: (s: any) => {
              s.ticks = xTickPos.map((value) => ({ value }));
            },
            afterFit: (s: any) => {
              s.height = 46;
              s.paddingLeft = 0;
              s.paddingRight = 0;
            },
          },
        },
      } as any,
      plugins: [panesPlugin],
    });

    return () => chart.destroy();
  }, []);

  return (
    <div style={{ position: 'absolute', left: 0, top: 0, width: W, height: H, background: '#fff' }}>
      <canvas ref={ref} width={W} height={H} style={{ width: W, height: H, display: 'block' }} />
    </div>
  );
}
